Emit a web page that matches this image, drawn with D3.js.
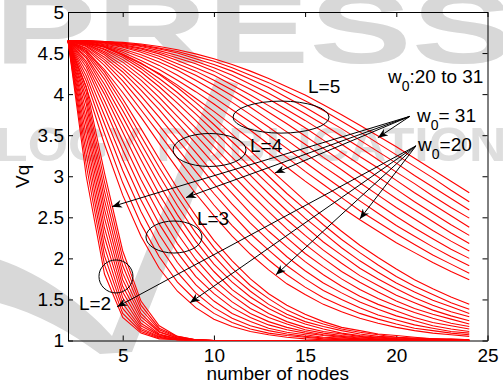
<!DOCTYPE html>
<html>
<head>
<meta charset="utf-8">
<script src="https://cdn.jsdelivr.net/npm/d3@7"></script>
<style>
  html, body { margin: 0; padding: 0; background: #fff; }
  svg { display: block; font-family: "Liberation Sans", Arial, sans-serif; }
</style>
</head>
<body>
<svg id="chart" width="503" height="388"></svg>
<script>
// number of nodes (x) shared by every curve
const nodes = [2,3,4,5,6,7,8,9,10,11,12,13,14,15,16,17,18,19,20,21,22,23,24];
// one curve per w0 value, 20 .. 31, inside each L group
const w0 = [20,21,22,23,24,25,26,27,28,29,30,31];

const vqL2 = [
  [4.65,3.00,1.81,1.28,1.09,1.02,1.01,1,1,1,1,1,1,1,1,1,1,1,1,1,1,1,1],
  [4.65,3.14,1.92,1.33,1.11,1.03,1.01,1,1,1,1,1,1,1,1,1,1,1,1,1,1,1,1],
  [4.65,3.27,2.03,1.39,1.13,1.04,1.01,1,1,1,1,1,1,1,1,1,1,1,1,1,1,1,1],
  [4.65,3.39,2.14,1.45,1.15,1.05,1.01,1,1,1,1,1,1,1,1,1,1,1,1,1,1,1,1],
  [4.65,3.50,2.26,1.52,1.18,1.06,1.02,1,1,1,1,1,1,1,1,1,1,1,1,1,1,1,1],
  [4.65,3.61,2.37,1.59,1.21,1.07,1.02,1,1,1,1,1,1,1,1,1,1,1,1,1,1,1,1],
  [4.65,3.70,2.49,1.66,1.25,1.08,1.02,1.01,1,1,1,1,1,1,1,1,1,1,1,1,1,1,1],
  [4.65,3.79,2.60,1.74,1.29,1.10,1.03,1.01,1,1,1,1,1,1,1,1,1,1,1,1,1,1,1],
  [4.65,3.88,2.71,1.82,1.33,1.11,1.03,1.01,1,1,1,1,1,1,1,1,1,1,1,1,1,1,1],
  [4.65,3.95,2.82,1.91,1.38,1.13,1.04,1.01,1,1,1,1,1,1,1,1,1,1,1,1,1,1,1],
  [4.65,4.02,2.93,2.00,1.43,1.15,1.05,1.01,1,1,1,1,1,1,1,1,1,1,1,1,1,1,1],
  [4.65,4.09,3.04,2.09,1.48,1.18,1.05,1.01,1,1,1,1,1,1,1,1,1,1,1,1,1,1,1]
];

const vqL3 = [
  [4.65,4.08,3.39,2.77,2.27,1.88,1.60,1.40,1.26,1.17,1.11,1.07,1.04,1.02,1.01,1.01,1.01,1,1,1,1,1,1],
  [4.65,4.16,3.52,2.92,2.42,2.02,1.71,1.49,1.33,1.22,1.14,1.09,1.06,1.04,1.02,1.01,1.01,1.01,1,1,1,1,1],
  [4.65,4.22,3.64,3.07,2.57,2.15,1.83,1.58,1.40,1.27,1.18,1.12,1.08,1.05,1.03,1.02,1.01,1.01,1,1,1,1,1],
  [4.65,4.28,3.74,3.20,2.71,2.29,1.95,1.68,1.48,1.33,1.23,1.15,1.10,1.07,1.04,1.03,1.02,1.01,1.01,1,1,1,1],
  [4.65,4.33,3.84,3.32,2.84,2.42,2.07,1.78,1.57,1.40,1.28,1.19,1.13,1.09,1.06,1.04,1.02,1.01,1.01,1.01,1,1,1],
  [4.65,4.37,3.92,3.43,2.96,2.54,2.18,1.89,1.65,1.47,1.33,1.23,1.16,1.11,1.07,1.05,1.03,1.02,1.01,1.01,1.01,1,1],
  [4.65,4.40,4.00,3.54,3.08,2.67,2.30,1.99,1.74,1.55,1.39,1.28,1.20,1.13,1.09,1.06,1.04,1.03,1.02,1.01,1.01,1,1],
  [4.65,4.44,4.06,3.63,3.20,2.78,2.42,2.10,1.84,1.62,1.46,1.33,1.23,1.16,1.11,1.08,1.05,1.03,1.02,1.01,1.01,1.01,1],
  [4.65,4.46,4.12,3.72,3.30,2.90,2.53,2.21,1.93,1.71,1.53,1.39,1.28,1.20,1.14,1.09,1.06,1.04,1.03,1.02,1.01,1.01,1.01],
  [4.65,4.49,4.18,3.80,3.40,3.01,2.64,2.31,2.03,1.79,1.60,1.44,1.32,1.23,1.17,1.12,1.08,1.05,1.04,1.02,1.02,1.01,1.01],
  [4.65,4.51,4.23,3.88,3.49,3.11,2.75,2.42,2.13,1.88,1.67,1.51,1.37,1.27,1.20,1.14,1.10,1.07,1.04,1.03,1.02,1.01,1.01],
  [4.65,4.53,4.27,3.94,3.58,3.21,2.85,2.52,2.22,1.97,1.75,1.57,1.43,1.32,1.23,1.16,1.12,1.08,1.06,1.04,1.02,1.02,1.01]
];

const vqL4 = [
  [4.65,4.53,4.30,4.02,3.72,3.40,3.09,2.79,2.52,2.27,2.05,1.86,1.69,1.56,1.44,1.35,1.27,1.21,1.16,1.12,1.09,1.07,1.05],
  [4.65,4.55,4.35,4.10,3.81,3.52,3.22,2.93,2.65,2.40,2.18,1.98,1.80,1.65,1.52,1.42,1.33,1.26,1.20,1.15,1.12,1.09,1.07],
  [4.65,4.56,4.39,4.16,3.90,3.62,3.34,3.06,2.79,2.54,2.30,2.10,1.91,1.75,1.61,1.50,1.40,1.31,1.25,1.19,1.15,1.11,1.09],
  [4.65,4.58,4.42,4.22,3.98,3.72,3.45,3.18,2.91,2.66,2.43,2.22,2.02,1.85,1.70,1.58,1.47,1.38,1.30,1.24,1.18,1.14,1.11],
  [4.65,4.59,4.45,4.27,4.05,3.81,3.55,3.29,3.03,2.79,2.55,2.33,2.14,1.96,1.80,1.66,1.54,1.44,1.36,1.28,1.22,1.18,1.14],
  [4.65,4.60,4.48,4.31,4.11,3.89,3.65,3.40,3.15,2.90,2.67,2.45,2.25,2.06,1.90,1.75,1.62,1.51,1.42,1.34,1.27,1.21,1.17],
  [4.65,4.61,4.50,4.35,4.17,3.96,3.73,3.50,3.26,3.02,2.79,2.57,2.36,2.17,2.00,1.84,1.71,1.59,1.48,1.39,1.32,1.26,1.20],
  [4.65,4.61,4.52,4.39,4.22,4.03,3.81,3.59,3.36,3.13,2.90,2.68,2.47,2.28,2.10,1.94,1.79,1.67,1.55,1.46,1.37,1.30,1.24],
  [4.65,4.62,4.54,4.42,4.27,4.09,3.89,3.68,3.45,3.23,3.01,2.79,2.58,2.39,2.20,2.04,1.88,1.75,1.63,1.52,1.43,1.35,1.29],
  [4.65,4.62,4.55,4.45,4.31,4.14,3.96,3.76,3.55,3.33,3.11,2.90,2.69,2.49,2.31,2.13,1.97,1.83,1.70,1.59,1.49,1.41,1.33],
  [4.65,4.63,4.57,4.47,4.34,4.19,4.02,3.83,3.63,3.42,3.21,3.00,2.79,2.60,2.41,2.23,2.07,1.92,1.78,1.66,1.56,1.46,1.38],
  [4.65,4.63,4.58,4.49,4.38,4.24,4.08,3.90,3.71,3.51,3.31,3.10,2.90,2.70,2.51,2.33,2.16,2.01,1.87,1.74,1.63,1.53,1.44]
];

const vqL5 = [
  [4.65,4.62,4.57,4.48,4.37,4.25,4.11,3.95,3.79,3.62,3.45,3.28,3.11,2.94,2.78,2.62,2.47,2.33,2.19,2.07,1.95,1.84,1.74],
  [4.65,4.63,4.58,4.51,4.41,4.30,4.17,4.03,3.88,3.72,3.56,3.39,3.23,3.06,2.90,2.74,2.58,2.44,2.30,2.17,2.04,1.93,1.82],
  [4.65,4.63,4.59,4.53,4.45,4.35,4.23,4.10,3.96,3.81,3.66,3.50,3.34,3.17,3.01,2.85,2.70,2.55,2.40,2.27,2.14,2.02,1.91],
  [4.65,4.64,4.60,4.55,4.48,4.39,4.29,4.17,4.04,3.90,3.75,3.60,3.44,3.28,3.12,2.97,2.81,2.66,2.51,2.37,2.24,2.11,2.00],
  [4.65,4.64,4.61,4.57,4.51,4.43,4.33,4.23,4.11,3.98,3.84,3.69,3.54,3.39,3.23,3.08,2.92,2.77,2.62,2.48,2.34,2.21,2.09],
  [4.65,4.64,4.62,4.58,4.53,4.46,4.37,4.28,4.17,4.05,3.92,3.78,3.64,3.49,3.34,3.18,3.03,2.88,2.73,2.59,2.45,2.31,2.18],
  [4.65,4.64,4.63,4.59,4.55,4.49,4.41,4.32,4.23,4.11,3.99,3.86,3.73,3.59,3.44,3.29,3.14,2.99,2.84,2.69,2.55,2.41,2.28],
  [4.65,4.65,4.63,4.60,4.56,4.51,4.44,4.37,4.28,4.17,4.06,3.94,3.81,3.68,3.54,3.39,3.24,3.10,2.95,2.80,2.66,2.52,2.38],
  [4.65,4.65,4.63,4.61,4.58,4.53,4.47,4.40,4.32,4.23,4.12,4.01,3.89,3.76,3.63,3.49,3.35,3.20,3.05,2.91,2.76,2.62,2.49],
  [4.65,4.65,4.64,4.62,4.59,4.55,4.50,4.43,4.36,4.28,4.18,4.08,3.96,3.84,3.71,3.58,3.44,3.30,3.16,3.01,2.87,2.73,2.59],
  [4.65,4.65,4.64,4.62,4.60,4.56,4.52,4.46,4.40,4.32,4.23,4.14,4.03,3.92,3.80,3.67,3.54,3.40,3.26,3.12,2.98,2.83,2.69],
  [4.65,4.65,4.64,4.63,4.61,4.58,4.54,4.49,4.43,4.36,4.28,4.19,4.09,3.99,3.87,3.75,3.62,3.49,3.36,3.22,3.08,2.94,2.80]
];

const xTicks = [5,10,15,20,25];
const yTicks = [1,1.5,2,2.5,3,3.5,4,4.5,5];

// group labels and their ellipses, in data units
const groupLabels = ["L=2","L=3","L=4","L=5"];
const labelPos = [[2.6,1.37],[9.07,2.41],[11.98,3.30],[15.16,4.01]];
const ellipsePos = [[4.63,1.78],[7.81,2.26],[9.76,3.32],[13.68,3.72]];

// arrow targets (data units) for the two w0 call-outs
const arrowsW31 = [[4.41,2.63],[8.47,2.74],[13.35,3.04],[18.99,3.47]];
const arrowsW20 = [[4.69,1.41],[8.69,1.46],[13.4,1.80],[18.0,2.48]];

const width = 503, height = 388;
const margin = { left: 68, right: 15.5, top: 12, bottom: 47.5 };
const fontPx = 19;

const svg = d3.select("#chart");

const x = d3.scaleLinear().domain([2, 25]).range([margin.left, width - margin.right]);
const y = d3.scaleLinear().domain([1, 5]).range([height - margin.bottom, margin.top]);

// faint publisher watermark behind the plot
const wm = svg.append("g");
wm.append("text")
  .attr("x", -6).attr("y", 63)
  .attr("font-size", 100).attr("font-weight", "bold")
  .attr("textLength", 520).attr("lengthAdjust", "spacingAndGlyphs")
  .attr("fill", "#d8d8d8")
  .text("PRESS");
wm.append("text")
  .attr("x", -4).attr("y", 161)
  .attr("font-size", 48).attr("font-weight", "bold")
  .attr("textLength", 545).attr("lengthAdjust", "spacingAndGlyphs")
  .attr("fill", "#dedede")
  .text("LOGY PUBLICATIONS");
wm.append("path")
  .attr("d", "M-5,258 C40,272 85,305 112,336 L216,78 L238,84 L132,352 L100,354 C70,332 35,312 -5,302 Z")
  .attr("fill", "#d8d8d8");

// axes: MATLAB-style box with inward ticks on every side
const gx = svg.append("g")
  .attr("transform", `translate(0,${height - margin.bottom})`)
  .call(d3.axisBottom(x).tickValues(xTicks).tickSizeInner(-5).tickSizeOuter(0).tickPadding(8));
const gy = svg.append("g")
  .attr("transform", `translate(${margin.left},0)`)
  .call(d3.axisLeft(y).tickValues(yTicks).tickSizeInner(-5).tickSizeOuter(0).tickPadding(4).tickFormat(d => d));
svg.append("g")
  .attr("transform", `translate(0,${margin.top})`)
  .call(d3.axisTop(x).tickValues(xTicks).tickSizeInner(-5).tickSizeOuter(0).tickFormat(""));
svg.append("g")
  .attr("transform", `translate(${width - margin.right},0)`)
  .call(d3.axisRight(y).tickValues(yTicks).tickSizeInner(-5).tickSizeOuter(0).tickFormat(""));

svg.selectAll(".domain, .tick line").attr("stroke", "#000").attr("stroke-width", 1);
[gx, gy].forEach(g => g.selectAll("text")
  .attr("fill", "#000")
  .style("font-size", fontPx + "px")
  .style("font-family", '"Liberation Sans", Arial, sans-serif'));

// curves
const line = d3.line()
  .x((d, i) => x(nodes[i]))
  .y(d => y(d));

const curves = svg.append("g").attr("fill", "none").attr("stroke", "#ff0000").attr("stroke-width", 1.1);
[vqL2, vqL3, vqL4, vqL5].forEach(group => {
  curves.selectAll(null)
    .data(group)
    .enter()
    .append("path")
    .attr("d", line);
});

// annotations
const ann = svg.append("g").attr("fill", "#000").style("font-size", fontPx + "px");

const ellR = [[17, 16.5], [28, 16], [36.5, 16.5], [48, 16]];
ann.selectAll("ellipse")
  .data(ellipsePos)
  .enter()
  .append("ellipse")
  .attr("cx", d => x(d[0]))
  .attr("cy", d => y(d[1]))
  .attr("rx", (d, i) => ellR[i][0])
  .attr("ry", (d, i) => ellR[i][1])
  .attr("fill", "none")
  .attr("stroke", "#000")
  .attr("stroke-width", 1);

ann.selectAll("text.grp")
  .data(groupLabels)
  .enter()
  .append("text")
  .attr("class", "grp")
  .attr("x", (d, i) => x(labelPos[i][0]))
  .attr("y", (d, i) => y(labelPos[i][1]))
  .text(d => d);

function wLabel(n, v, rest) {
  const t = ann.append("text").attr("x", x(n)).attr("y", y(v));
  t.append("tspan").text("w");
  t.append("tspan").attr("dy", 8).style("font-size", "14px").text("0");
  t.append("tspan").attr("dy", -8).text(rest);
}
wLabel(19.54, 4.14, ":20 to 31");
wLabel(21.13, 3.66, "= 31");
wLabel(21.19, 3.31, "=20");

svg.append("defs").append("marker")
  .attr("id", "head")
  .attr("viewBox", "0 0 10 8")
  .attr("refX", 10).attr("refY", 4)
  .attr("markerWidth", 10).attr("markerHeight", 8)
  .attr("markerUnits", "userSpaceOnUse")
  .attr("orient", "auto")
  .append("path")
  .attr("d", "M0,0 L10,4 L0,8 L3,4 Z")
  .attr("fill", "#000");

function arrows(from, targets) {
  ann.selectAll(null)
    .data(targets)
    .enter()
    .append("line")
    .attr("x1", x(from[0])).attr("y1", y(from[1]))
    .attr("x2", d => x(d[0])).attr("y2", d => y(d[1]))
    .attr("stroke", "#000").attr("stroke-width", 1)
    .attr("marker-end", "url(#head)");
}
arrows([20.75, 3.73], arrowsW31);
arrows([21.08, 3.37], arrowsW20);

// axis titles
svg.append("text")
  .attr("x", (x(2) + x(25)) / 2).attr("y", 380)
  .attr("text-anchor", "middle")
  .style("font-size", fontPx + "px")
  .text("number of nodes");
svg.append("text")
  .attr("transform", `translate(29,${y(3)}) rotate(-90)`)
  .attr("text-anchor", "middle")
  .style("font-size", fontPx + "px")
  .text("Vq");
</script>
</body>
</html>
